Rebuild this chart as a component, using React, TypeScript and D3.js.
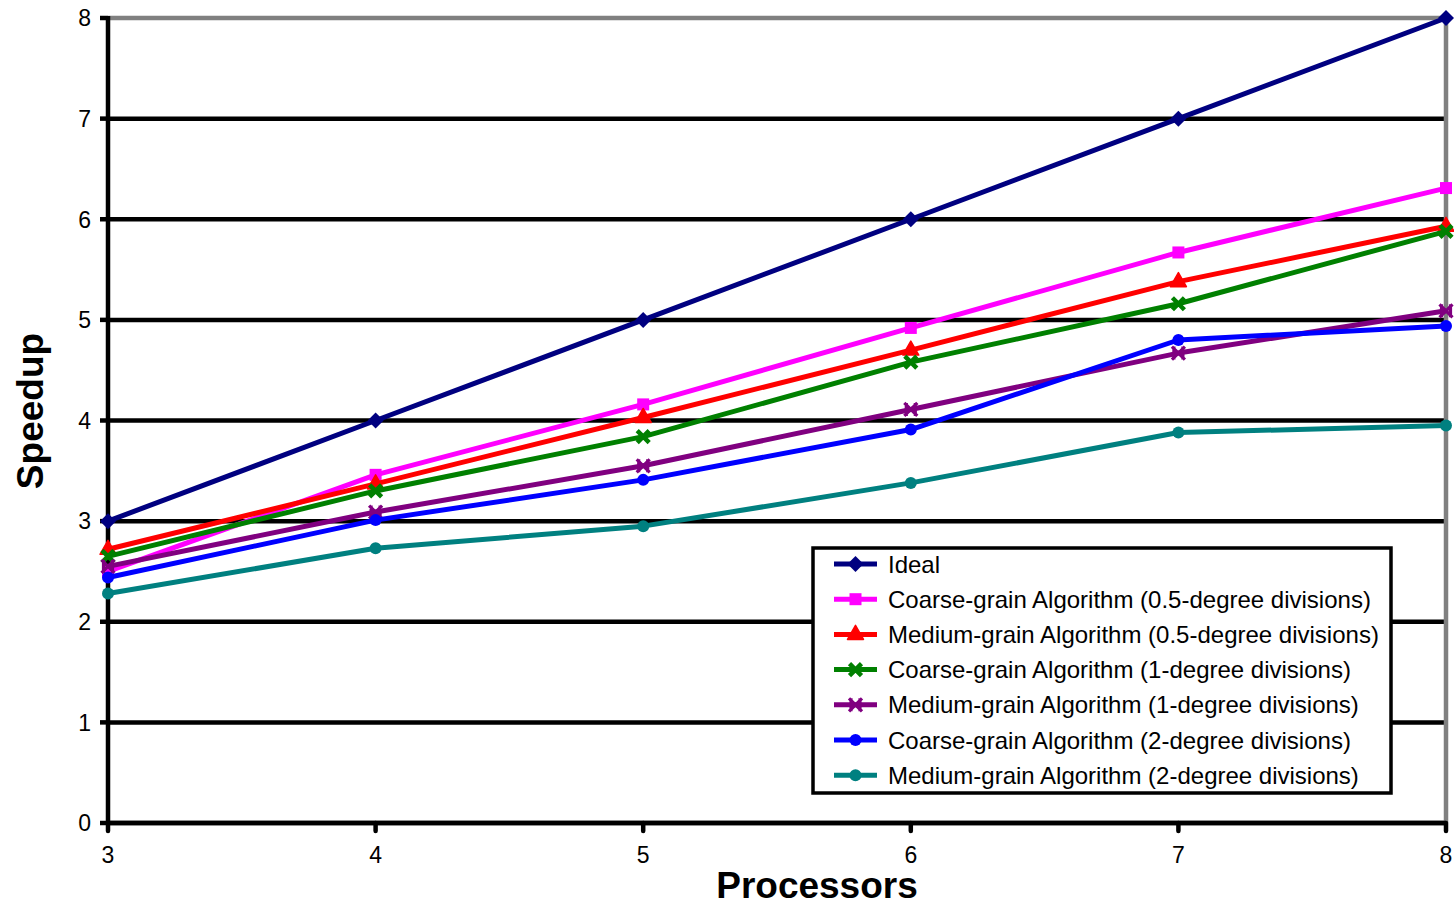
import React from "react";
import * as d3 from "d3";

const processors = [3, 4, 5, 6, 7, 8];
const yTicks = [0, 1, 2, 3, 4, 5, 6, 7, 8];

const ideal = [3, 4, 5, 6, 7, 8];
const coarse05 = [2.5, 3.46, 4.16, 4.92, 5.67, 6.31];
const medium05 = [2.72, 3.37, 4.03, 4.7, 5.38, 5.93];
const coarse1 = [2.65, 3.3, 3.84, 4.58, 5.16, 5.88];
const medium1 = [2.55, 3.09, 3.55, 4.11, 4.67, 5.09];
const coarse2 = [2.44, 3.01, 3.41, 3.91, 4.8, 4.94];
const medium2 = [2.28, 2.73, 2.95, 3.38, 3.88, 3.95];

const seriesNames = [
  "Ideal",
  "Coarse-grain Algorithm (0.5-degree divisions)",
  "Medium-grain Algorithm (0.5-degree divisions)",
  "Coarse-grain Algorithm (1-degree divisions)",
  "Medium-grain Algorithm (1-degree divisions)",
  "Coarse-grain Algorithm (2-degree divisions)",
  "Medium-grain Algorithm (2-degree divisions)",
];
const seriesValues = [ideal, coarse05, medium05, coarse1, medium1, coarse2, medium2];
const seriesColors = ["#000080", "#FF00FF", "#FF0000", "#008000", "#800080", "#0000FF", "#008080"];
const seriesMarkers = ["diamond", "square", "triangle", "x", "star", "circle", "circle"];

const W = 1454;
const H = 905;
const left = 108;
const right = 1446;
const top = 18;
const bottom = 823;

const x = d3.scaleLinear().domain([3, 8]).range([left, right]);
const y = d3.scaleLinear().domain([0, 8]).range([bottom, top]);

function Marker({ type, cx, cy, color }: { type: string; cx: number; cy: number; color: string }) {
  if (type === "diamond") {
    const s = 8;
    return <path d={`M${cx},${cy - s}L${cx + s},${cy}L${cx},${cy + s}L${cx - s},${cy}Z`} fill={color} />;
  }
  if (type === "square") {
    return <rect x={cx - 6} y={cy - 6} width={12} height={12} fill={color} />;
  }
  if (type === "triangle") {
    return <path d={`M${cx},${cy - 9}L${cx + 8},${cy + 5}L${cx - 8},${cy + 5}Z`} fill={color} stroke={color} strokeWidth={1.5} strokeLinejoin="round" />;
  }
  if (type === "x") {
    const s = 6;
    return (
      <path d={`M${cx - s},${cy - s}L${cx + s},${cy + s}M${cx + s},${cy - s}L${cx - s},${cy + s}`} stroke={color} strokeWidth={4.5} />
    );
  }
  if (type === "star") {
    const s = 6.5;
    return (
      <g stroke={color} strokeWidth={3.2}>
        <path d={`M${cx - s},${cy - s}L${cx + s},${cy + s}M${cx + s},${cy - s}L${cx - s},${cy + s}M${cx - 4.5},${cy - s}L${cx - 4.5},${cy + s}M${cx + 4.5},${cy - s}L${cx + 4.5},${cy + s}`} />
      </g>
    );
  }
  return <circle cx={cx} cy={cy} r={6} fill={color} />;
}

export default function App() {
  const line = d3
    .line<number>()
    .x((_, i) => x(processors[i]))
    .y((d) => y(d));

  const font = "'Liberation Sans', Arial, sans-serif";
  const legX = 813;
  const legY = 548;
  const legW = 578;
  const legH = 245;
  const rowH = 35.2;

  return (
    <svg width={W} height={H} style={{ position: "absolute", left: 0, top: 0, background: "#fff" }} fontFamily={font}>
      {yTicks.map((t) => (
        <line key={"g" + t} x1={left} x2={right} y1={y(t)} y2={y(t)} stroke={t === 8 ? "#808080" : "#000"} strokeWidth={4.5} />
      ))}
      <line x1={right} x2={right} y1={top} y2={bottom} stroke="#808080" strokeWidth={4.5} />
      <line x1={left} x2={left} y1={top - 2} y2={bottom + 2} stroke="#000" strokeWidth={4.5} />
      {yTicks.map((t) => (
        <g key={"yt" + t}>
          <line x1={left - 8} x2={left} y1={y(t)} y2={y(t)} stroke="#000" strokeWidth={4.5} />
          <text x={91} y={y(t)} dy="0.36em" textAnchor="end" fontSize={23} fill="#000">
            {t}
          </text>
        </g>
      ))}
      <line x1={left} x2={right} y1={bottom} y2={bottom} stroke="#000" strokeWidth={4.5} />
      {processors.map((p) => (
        <g key={"xt" + p}>
          <line x1={x(p)} x2={x(p)} y1={bottom} y2={bottom + 8} stroke="#000" strokeWidth={4.5} strokeLinecap="round" />
          <text x={x(p)} y={863} textAnchor="middle" fontSize={23} fill="#000">
            {p}
          </text>
        </g>
      ))}
      {seriesValues.map((vals, si) => (
        <g key={"s" + si}>
          <path d={line(vals) || ""} fill="none" stroke={seriesColors[si]} strokeWidth={5} strokeLinejoin="round" />
          {vals.map((v, i) => (
            <Marker key={i} type={seriesMarkers[si]} cx={x(processors[i])} cy={y(v)} color={seriesColors[si]} />
          ))}
        </g>
      ))}
      <text x={817} y={898} textAnchor="middle" fontSize={37} fontWeight="bold" fill="#000">
        Processors
      </text>
      <text transform={`translate(43,411) rotate(-90)`} textAnchor="middle" fontSize={37} fontWeight="bold" fill="#000">
        Speedup
      </text>
      <rect x={legX} y={legY} width={legW} height={legH} fill="#fff" stroke="#000" strokeWidth={3.5} />
      {seriesNames.map((name, i) => {
        const cy = legY + 16 + i * rowH;
        return (
          <g key={"l" + i}>
            <line x1={834} x2={877} y1={cy} y2={cy} stroke={seriesColors[i]} strokeWidth={5} />
            <Marker type={seriesMarkers[i]} cx={855.5} cy={cy} color={seriesColors[i]} />
            <text x={888} y={cy} dy="0.36em" fontSize={24} fill="#000">
              {name}
            </text>
          </g>
        );
      })}
    </svg>
  );
}
